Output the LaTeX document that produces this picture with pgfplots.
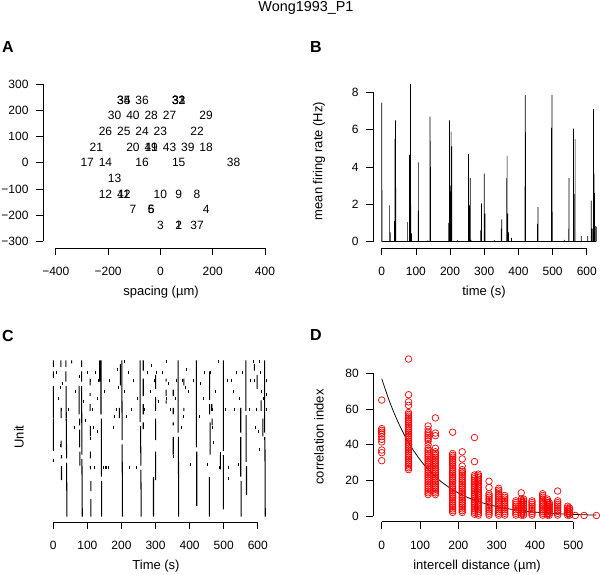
\documentclass[border=0pt]{standalone}
\usepackage{pgfplots}
\pgfplotsset{compat=1.18}
\usepackage{pgfplotstable}
\usepackage{fontspec}
\setmainfont{Liberation Sans}

\newcommand{\tw}{\fontsize{12}{14}\selectfont}
\newcommand{\lw}{\fontsize{13}{15}\selectfont}

\pgfplotsset{
  rplot/.style={
    scale only axis, anchor=south west,
    axis x line*=bottom, axis y line*=left,
    axis line style={draw=none},
    tick align=outside, major tick length=7pt,
    tick style={black, line width=0.75pt},
    tick label style={font=\tw},
    /pgf/number format/assume math mode=true,
    xticklabel style={yshift=-8.7pt},
    yticklabel style={xshift=-4pt},
    clip=false,
  }
}

% unit positions on the array (A)
\pgfplotstableread[row sep=\\]{
x y lab\\
-140 240 35\\ -140 240 34\\ -70 240 36\\ 70 240 32\\ 70 240 33\\ 70 240 31\\
-175 180 30\\ -105 180 40\\ -35 180 28\\ 35 180 27\\ 175 180 29\\
-210 120 26\\ -140 120 25\\ -70 120 24\\ 0 120 23\\ 140 120 22\\
-245 60 21\\ -105 60 20\\ -35 60 19\\ -35 60 41\\ 35 60 43\\ 105 60 39\\ 175 60 18\\
-280 0 17\\ -210 0 14\\ -70 0 16\\ 70 0 15\\ 280 0 38\\
-175 -60 13\\
-210 -120 12\\ -140 -120 11\\ -140 -120 42\\ 0 -120 10\\ 70 -120 9\\ 140 -120 8\\
-105 -180 7\\ -35 -180 6\\ -35 -180 5\\ 175 -180 4\\
0 -240 3\\ 70 -240 2\\ 70 -240 1\\ 140 -240 37\\
}\unitpos

% mean firing rate (B)
\pgfplotstableread[row sep=\\]{
t r\\
0 7.45\\ 1 2.75\\ 23 1.95\\ 25 0.5\\ 37 1.1\\ 39 5.5\\ 40 6.5\\ 41 2.9\\
75 1.05\\ 81 4.65\\ 84 8.45\\ 85 2.0\\ 87 0.45\\ 107 1.65\\ 108 4.25\\ 135 0.08\\
141 6.7\\ 142 5.4\\ 143 4.0\\ 196 1.0\\ 198 6.5\\ 200 2.7\\ 202 3.0\\ 203 5.9\\
205 5.1\\ 222 0.08\\ 254 4.7\\ 256 1.95\\ 259 3.4\\ 261 0.1\\ 290 0.6\\ 292 2.05\\
300 3.65\\ 302 1.5\\ 329 0.08\\ 350 0.7\\ 351 1.2\\ 366 3.4\\ 367 4.6\\ 369 1.5\\
371 0.5\\ 380 0.2\\ 419 2.95\\ 420 7.85\\ 421 5.85\\ 456 0.95\\ 457 1.85\\ 497 6.1\\
498 7.85\\ 499 1.6\\ 534 0.1\\ 547 0.7\\ 548 3.4\\ 561 6.05\\ 563 2.55\\ 566 5.5\\
584 0.3\\ 603 0.3\\ 613 2.2\\ 614 0.45\\ 616 0.7\\ 620 7.1\\ 621 3.65\\ 623 2.6\\
626 0.85\\ 628 0.8\\
}\rate

% correlation index vs distance (D)
\pgfplotstableread[row sep=\\]{
d c\\
0 31\\ 0 35.5\\ 0 37\\ 0 41.5\\ 0 43\\ 0 44.5\\ 0 46\\ 0 47\\ 0 48\\ 0 49\\ 0 65\\
70 26\\ 70 27\\ 70 28\\ 70 29\\ 70 30\\ 70 31\\ 70 32\\ 70 33\\ 70 34\\ 70 35\\ 70 36\\
70 37\\ 70 38\\ 70 39\\ 70 40\\ 70 41\\ 70 42\\ 70 43\\ 70 44\\ 70 45\\ 70 46\\ 70 47\\
70 48\\ 70 49\\ 70 50\\ 70 51\\ 70 52\\ 70 53\\ 70 54\\ 70 55\\ 70 56\\ 70 57\\ 70 58\\
70 62\\ 70 64\\ 70 68\\ 70 88\\
121 12\\ 121 13\\ 121 14\\ 121 15\\ 121 16\\ 121 17\\ 121 18\\ 121 19\\ 121 20\\ 121 21\\
121 22\\ 121 23\\ 121 24\\ 121 25\\ 121 26\\ 121 27\\ 121 28\\ 121 29\\ 121 30\\ 121 31\\
121 32\\ 121 33\\ 121 34\\ 121 35\\ 121 36\\ 121 37\\ 121 38\\ 121 40\\ 121 42\\ 121 43\\
121 44\\ 121 45\\ 121 46\\ 121 47\\ 121 48.5\\ 121 50.5\\
140 12\\ 140 13\\ 140 14\\ 140 15\\ 140 16\\ 140 17\\ 140 18\\ 140 19\\ 140 20\\ 140 21\\
140 22\\ 140 23\\ 140 24\\ 140 25\\ 140 26\\ 140 27\\ 140 28\\ 140 29\\ 140 30\\ 140 31\\
140 32\\ 140 33\\ 140 34\\ 140 35\\ 140 36\\ 140 38\\ 140 45\\ 140 46.5\\ 140 55\\
185 2\\ 185 3\\ 185 4\\ 185 5\\ 185 6\\ 185 7\\ 185 8\\ 185 9\\ 185 10\\ 185 11\\ 185 12\\
185 13\\ 185 14\\ 185 15\\ 185 16\\ 185 17\\ 185 18\\ 185 19\\ 185 20\\ 185 21\\ 185 22\\
185 23\\ 185 24\\ 185 25\\ 185 26\\ 185 27\\ 185 28\\ 185 29\\ 185 30\\ 185 31\\ 185 32\\
185 33\\ 185 34\\ 185 35\\ 185 47\\
210 2\\ 210 3\\ 210 4\\ 210 5\\ 210 6\\ 210 7\\ 210 8\\ 210 9\\ 210 10\\ 210 11\\ 210 12\\
210 13\\ 210 14\\ 210 15\\ 210 16\\ 210 17\\ 210 18\\ 210 19\\ 210 20\\ 210 21\\ 210 22\\
210 23\\ 210 24\\ 210 25\\ 210 26\\ 210 28\\ 210 32\\ 210 36\\
242 1\\ 242 2\\ 242 3\\ 242 4\\ 242 5\\ 242 6\\ 242 7\\ 242 8\\ 242 9\\ 242 10\\ 242 11\\
242 12\\ 242 13\\ 242 14\\ 242 15\\ 242 16\\ 242 17\\ 242 18\\ 242 19\\ 242 20\\ 242 21\\
242 22\\ 242 23\\ 242 30.5\\ 242 44\\
252 0.5\\ 252 1.5\\ 252 2.5\\ 252 3.5\\ 252 4.5\\ 252 5.5\\ 252 6.5\\ 252 7.5\\ 252 8.5\\
252 9.5\\ 252 10.5\\ 252 11.5\\ 252 12.5\\ 252 13.5\\ 252 14.5\\ 252 15.5\\ 252 16.5\\
252 17.5\\ 252 18.5\\ 252 19.5\\ 252 20.5\\ 252 21.5\\ 252 22.5\\ 252 23.5\\
280 0.5\\ 280 1.5\\ 280 2.5\\ 280 3.5\\ 280 4.5\\ 280 5.5\\ 280 6.5\\ 280 7.5\\ 280 8.5\\
280 9.5\\ 280 10.5\\ 280 11.5\\ 280 12.5\\ 280 16\\ 280 19.5\\
305 0.5\\ 305 1.5\\ 305 2.5\\ 305 3.5\\ 305 4.5\\ 305 5.5\\ 305 6.5\\ 305 7.5\\ 305 8.5\\
305 9.5\\ 305 10.5\\ 305 11.5\\ 305 12.5\\ 305 13.5\\ 305 14.5\\ 305 15.5\\
321 0.5\\ 321 1.5\\ 321 2.5\\ 321 3.5\\ 321 4.5\\ 321 5.5\\ 321 6.5\\ 321 7.5\\ 321 8.5\\
321 9.5\\ 321 10.5\\ 321 11.5\\
350 0.5\\ 350 1.5\\ 350 2.5\\ 350 3.5\\ 350 4.5\\ 350 5.5\\ 350 6.5\\ 350 7.5\\ 350 8.5\\
364 0.5\\ 364 1.5\\ 364 2.5\\ 364 3.5\\ 364 4.5\\ 364 5.5\\ 364 6.5\\ 364 7.5\\ 364 8.5\\
364 9.5\\ 364 13\\
370 0.5\\ 370 1.5\\ 370 2.5\\ 370 3.5\\ 370 4.5\\ 370 5.5\\ 370 6.5\\ 370 7.5\\ 370 8.5\\
370 9.5\\
392 0.5\\ 392 1.5\\ 392 2.5\\ 392 3.5\\ 392 4.5\\ 392 5.5\\ 392 6.5\\ 392 7.5\\ 392 8.5\\
420 0.5\\ 420 1.5\\ 420 2.5\\ 420 3.5\\ 420 4.5\\ 420 5.5\\ 420 6.5\\ 420 7.5\\ 420 8.5\\
420 9.5\\ 420 10.5\\ 420 11.5\\ 420 12.5\\
432 0.5\\ 432 1.5\\ 432 2.5\\ 432 3.5\\ 432 4.5\\ 432 5.5\\ 432 6.5\\ 432 7.5\\ 432 8.5\\
432 9.5\\
437 0.5\\ 437 1.5\\ 437 2.5\\ 437 3.5\\ 437 4.5\\ 437 5.5\\ 437 6.5\\ 437 7.5\\
459 0.5\\ 459 1.5\\ 459 2.5\\ 459 3.5\\ 459 4.5\\ 459 5.5\\ 459 6.5\\ 459 7.5\\ 459 8.5\\
459 14\\
485 0.5\\ 485 1.5\\ 485 2.5\\ 485 3.5\\ 485 4.5\\ 485 5.5\\
490 0.5\\ 490 1.5\\ 490 2.5\\ 490 3.5\\ 490 4.5\\
505 0.3\\ 528 0.3\\ 560 0.3\\
}\corr

\begin{document}
\begin{tikzpicture}
\useasboundingbox (0pt,0pt) rectangle (600pt,-574pt);

\node[font=\fontsize{14.4}{16}\selectfont, anchor=base] at (306pt,-11pt) {Wong1993\_P1};

%% ---------------- A: electrode positions
\begin{axis}[rplot, at={(43pt,-248pt)},
  width=234.8pt, height=170.5pt,
  xmin=-449, xmax=449, ymin=-326, ymax=326,
  xtick={-400,-200,0,200,400},
  xticklabels={−400,−200,0,200,400},
  ytick={-300,-200,-100,0,100,200,300},
  yticklabels={−300,−200,−100,0,100,200,300},
]
\addplot[only marks, mark=none, nodes near coords, point meta=explicit symbolic,
  every node near coord/.append style={anchor=center, font=\tw, inner sep=0pt}]
  table[x=x, y=y, meta=lab] {\unitpos};
\draw[line width=0.75pt] (axis cs:-400,-326) -- (axis cs:400,-326);
\draw[line width=0.75pt] (axis cs:-449,-300) -- (axis cs:-449,300);
\end{axis}

%% ---------------- B: mean firing rate
\begin{axis}[rplot, at={(373.2pt,-248pt)},
  width=223.8pt, height=170.6pt,
  xmin=-25, xmax=630, ymin=-0.34, ymax=8.8,
  xtick={0,100,...,600}, ytick={0,2,4,6,8},
]
\addplot[black, line width=0.6pt] coordinates {(0,0) (628,0)};
\addplot[ybar, bar width=0.7pt, fill=black, draw=none] table[x=t, y=r] {\rate};
\draw[line width=0.75pt] (axis cs:0,-0.34) -- (axis cs:600,-0.34);
\draw[line width=0.75pt] (axis cs:-25,0) -- (axis cs:-25,8);
\end{axis}

%% ---------------- C: raster
\begin{axis}[rplot, at={(49.9pt,-522.3pt)},
  width=221.5pt, height=162.3pt,
  xmin=-10, xmax=640, ymin=-0.95, ymax=43.5,
  xtick={0,100,...,600}, ytick=\empty,
  unbounded coords=jump,
]
\addplot[black, line width=1.05pt] coordinates {
(0,43.42)(0,41.58) (nan,nan) (0,40.42)(0,38.58) (nan,nan) (0,36.42)(0,27.58) (nan,nan)
(0,27.42)(0,18.58) (nan,nan) (0,16.42)(0,15.58) (nan,nan)
(22,43.42)(22,41.58) (nan,nan) (23,30.42)(23,27.58) (nan,nan) (23,21.42)(23,19.58) (nan,nan)
(24,17.42)(24,16.58) (nan,nan) (24,14.42)(24,10.58) (nan,nan)
(37,43.42)(37,41.58) (nan,nan) (37,40.42)(37,37.58) (nan,nan) (37.5,36.42)(38,27.58) (nan,nan)
(38,27.42)(39,16.58) (nan,nan) (39,15.42)(40,0.58) (nan,nan)
(54,43.42)(54,42.58) (nan,nan)
(76,36.42)(76,28.58) (nan,nan) (77,27.42)(77,25.58) (nan,nan) (77,24.42)(77,19.58) (nan,nan)
(78,18.42)(78,14.58) (nan,nan)
(83,43.42)(83,41.58) (nan,nan) (83,40.42)(83,37.58) (nan,nan) (83,36.42)(84,17.58) (nan,nan)
(84,16.42)(85,0.58) (nan,nan)
(108,38.42)(108,36.58) (nan,nan) (108,34.42)(108,33.58) (nan,nan) (108,31.42)(108,29.58) (nan,nan)
(109,25.42)(109,22.58) (nan,nan) (109,18.42)(109,16.58) (nan,nan) (109,14.42)(109,13.58) (nan,nan)
(110,10.42)(110,7.58) (nan,nan) (110,5.42)(110,0.58) (nan,nan)
(136,43.42)(136,37.58) (nan,nan) (140,43.42)(140,28.58) (nan,nan) (141,27.42)(141,11.58) (nan,nan)
(142,10.42)(142,0.58) (nan,nan)
(197,42.42)(197,36.58) (nan,nan) (194,30.42)(194,27.58) (nan,nan) (201,43.42)(202,21.58) (nan,nan)
(202,20.42)(203,0.58) (nan,nan)
(255,43.42)(255,26.58) (nan,nan) (256,25.42)(257,14.58) (nan,nan) (257,13.42)(258,0.58) (nan,nan)
(264,43.42)(264,40.58) (nan,nan) (264,38.42)(264,33.58) (nan,nan) (264,31.42)(264,28.58) (nan,nan)
(264,26.42)(264,24.58) (nan,nan)
(294,11.42)(294,0.58) (nan,nan)
(300,39.42)(300,35.58) (nan,nan) (300,33.42)(300,29.58) (nan,nan) (300,27.42)(300,21.58) (nan,nan)
(300,18.42)(300,10.58) (nan,nan)
(331,38.42)(331,37.58) (nan,nan) (331,35.42)(331,33.58) (nan,nan) (331,32.42)(331,31.58) (nan,nan)
(352,35.42)(352,33.58) (nan,nan) (352,30.42)(352,28.58) (nan,nan) (352,26.42)(352,25.58) (nan,nan)
(352,22.42)(352,17.58) (nan,nan)
(366,43.42)(366,23.58) (nan,nan) (367,22.42)(368,0.58) (nan,nan)
(383,38.42)(383,36.58) (nan,nan) (383,30.42)(383,29.58) (nan,nan)
(420,43.42)(420,19.58) (nan,nan) (421,18.42)(421,3.58) (nan,nan)
(459,40.42)(459,32.58) (nan,nan) (459,31.42)(459,28.58) (nan,nan) (460,26.42)(460,17.58) (nan,nan)
(458,11.42)(458,0.58) (nan,nan)
(465,31.42)(465,29.58) (nan,nan) (466,27.42)(466,25.58) (nan,nan)
(499,43.42)(499,18.58) (nan,nan) (499,17.42)(499,2.58) (nan,nan)
(490,17.42)(490,13.58) (nan,nan)
(550,30.42)(550,23.58) (nan,nan) (550,22.42)(550,11.58) (nan,nan) (551,10.42)(551,0.58) (nan,nan)
(565,43.42)(565,29.58) (nan,nan) (566,28.42)(566,15.58) (nan,nan) (567,14.42)(567,6.58) (nan,nan)
(590,42.42)(590,40.58) (nan,nan) (598,39.42)(598,35.58) (nan,nan) (610,32.42)(610,29.58) (nan,nan)
(615,27.42)(615,22.58) (nan,nan)
(620,43.42)(620,23.58) (nan,nan) (621,22.42)(622,0.58)
};
\addplot[only marks, mark=|, mark size=1.5pt, black, mark options={line width=1pt}] coordinates {
(22.5,36) (21.5,20) (25.4,30) (24.5,14) (76,39) (110.6,38) (107.7,22) (122,14) (129,24)
(134,38) (147,14) (152,14) (157,14) (162,14) (176,25) (188,41) (191,36) (220,40) (225,14)
(181,28) (230,30) (245,14) (288.7,42) (296,38) (303,40) (333,43) (331,33) (342.6,30)
(354,17) (380,38) (386.6,36) (396,35) (381.7,28) (403,15) (430.7,37) (462,40) (468,30)
(468,25) (452,15) (470,21) (484.5,43) (491,18) (489,14) (514,14) (515,11) (523.6,38)
(533,30) (538,40) (543,15) (568,7) (587,43) (589,38) (597,30) (605,43) (602,24) (605,19)
(612,35) (617,33) (619,22) (626,30) (626,34) (208,43)
(10,40) (15,33) (28,37) (45,30) (62,25) (66,35) (90,32) (95,27) (100,40) (115,30) (118,25)
(125,40) (130,33) (150,35) (165,38) (185,30) (210,35) (215,28) (235,38) (248,33) (268,30)
(275,40) (285,35) (310,32) (320,40) (338,37) (358,33) (362,38) (375,25) (390,41) (410,38)
(428,28) (440,33) (445,40) (475,35) (505,30) (510,38) (528,35) (545,33) (555,40) (575,30)
(580,38) (593,25) (608,40) (625,38)
};
\draw[line width=0.75pt] (axis cs:0,-0.95) -- (axis cs:600,-0.95);
\end{axis}

%% ---------------- D: correlation index vs distance
\begin{axis}[rplot, at={(373.3pt,-521.7pt)},
  width=226.9pt, height=168.9pt,
  xmin=-22, xmax=570, ymin=-3.2, ymax=91.5,
  xtick={0,100,...,500}, ytick={0,20,40,60,80},
]
\addplot[only marks, mark=o, mark size=3.3pt, red, mark options={line width=0.7pt}]
  table[x=d, y=c] {\corr};
\addplot[black, line width=0.75pt, smooth] coordinates {
(0,77) (20,64.41) (40,53.88) (60,45.07) (80,37.70) (100,31.54) (120,26.38) (140,22.07)
(160,18.46) (180,15.44) (200,12.92) (220,10.80) (240,9.04) (260,7.56) (280,6.32)
(300,5.29) (320,4.43) (340,3.70) (360,3.10) (380,2.59) (400,2.17) (420,1.81) (440,1.52)
(460,1.27) (480,1.06) (500,0.89) (520,0.74) (540,0.62) (560,0.52)
};
\draw[line width=0.75pt] (axis cs:0,-3.2) -- (axis cs:500,-3.2);
\draw[line width=0.75pt] (axis cs:-22,0) -- (axis cs:-22,80);
\end{axis}

%% labels
\node[font=\lw] at (161pt,-292pt) {spacing (µm)};
\node[font=\lw] at (484pt,-292pt) {time (s)};
\node[font=\lw, rotate=90] at (319pt,-161pt) {mean firing rate (Hz)};
\node[font=\lw] at (156pt,-566pt) {Time (s)};
\node[font=\lw, rotate=90] at (19pt,-437pt) {Unit};
\node[font=\lw] at (477pt,-566pt) {intercell distance (µm)};
\node[font=\lw, rotate=90] at (319pt,-437pt) {correlation index};

\node[font=\fontsize{16}{18}\selectfont\bfseries] at (8pt,-47pt) {A};
\node[font=\fontsize{16}{18}\selectfont\bfseries] at (316pt,-47pt) {B};
\node[font=\fontsize{16}{18}\selectfont\bfseries] at (8pt,-336pt) {C};
\node[font=\fontsize{16}{18}\selectfont\bfseries] at (316pt,-335pt) {D};
\end{tikzpicture}
\end{document}
